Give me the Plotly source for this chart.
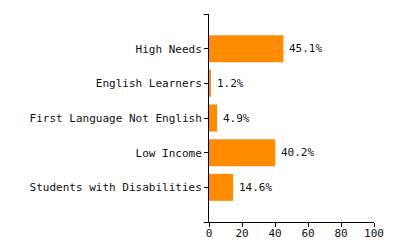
import plotly.graph_objects as go

categories = ["High Needs", "English Learners", "First Language Not English", "Low Income", "Students with Disabilities"]
values = [45.1, 1.2, 4.9, 40.2, 14.6]
x_ticks = [0, 20, 40, 60, 80, 100]

ypos = list(range(len(categories)))
labels = [f"{v}%" for v in values]

font = dict(family="DejaVu Sans Mono", size=11, color="#111")

fig = go.Figure(go.Bar(
    x=values, y=ypos, orientation="h",
    marker=dict(color="#FF8C00", line=dict(width=0)),
    width=0.78,
))

for v, y, t in zip(values, ypos, labels):
    fig.add_annotation(x=v, y=y, text=t, showarrow=False, xanchor="left",
                       yanchor="middle", xshift=4, font=font)

fig.update_layout(
    width=400, height=250,
    margin=dict(l=209, r=26, t=14, b=28),
    paper_bgcolor="white", plot_bgcolor="white",
    showlegend=False, font=font,
    xaxis=dict(range=[0, 100], tickvals=x_ticks, ticks="outside", ticklen=4,
               tickcolor="black", showline=True, linecolor="black", linewidth=1,
               showgrid=False, zeroline=False, tickfont=font, automargin=False,
               ticklabelstandoff=-3),
    yaxis=dict(range=[len(categories), -1],
               tickvals=[-1] + ypos + [len(categories)],
               ticktext=[""] + categories + [""],
               ticks="outside", ticklen=4, tickcolor="black",
               showline=True, linecolor="black", linewidth=1,
               showgrid=False, zeroline=False, tickfont=font, automargin=False),
)
fig.write_html("out.html")
